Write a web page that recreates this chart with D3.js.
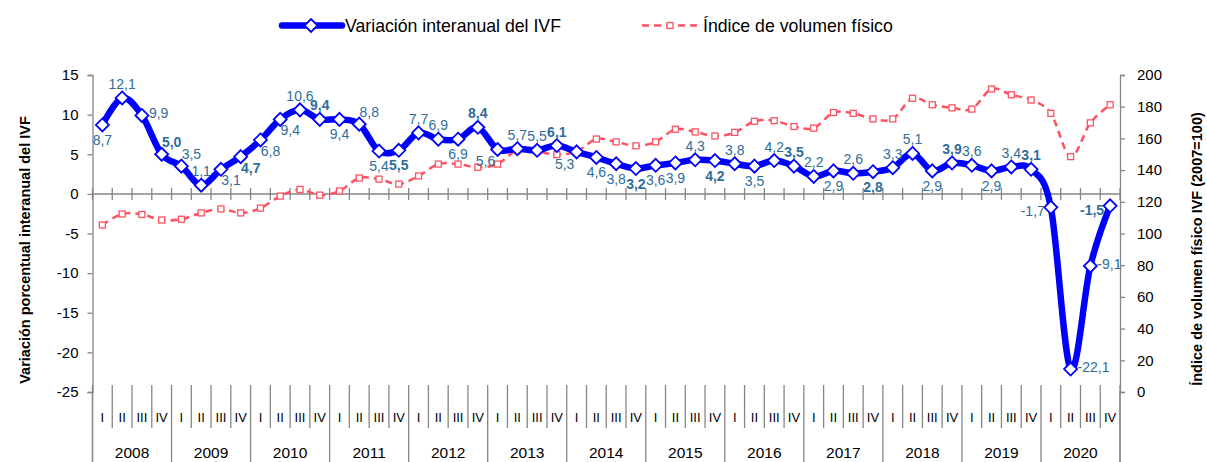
<!DOCTYPE html>
<html>
<head>
<meta charset="utf-8">
<script src="https://cdn.jsdelivr.net/npm/d3@7"></script>
<style>
  body { margin: 0; background: #fff; }
  text { font-family: "Liberation Sans", Arial, sans-serif; }
</style>
</head>
<body>
<svg id="chart" width="1207" height="462"></svg>
<script>
// quarterly data 2008-I .. 2020-IV
const years = ["2008", "2009", "2010", "2011", "2012", "2013", "2014",
  "2015", "2016", "2017", "2018", "2019", "2020"];
const quarters = ["I", "II", "III", "IV"];

// variacion interanual del IVF (%)
const variacion = [
  8.7, 12.1, 9.9, 5.0,
  3.5, 1.1, 3.1, 4.7,
  6.8, 9.4, 10.6, 9.4,
  9.4, 8.8, 5.4, 5.5,
  7.7, 6.9, 6.9, 8.4,
  5.6, 5.7, 5.5, 6.1,
  5.3, 4.6, 3.8, 3.2,
  3.6, 3.9, 4.3, 4.2,
  3.8, 3.5, 4.2, 3.5,
  2.2, 2.9, 2.6, 2.8,
  3.3, 5.1, 2.9, 3.9,
  3.6, 2.9, 3.4, 3.1,
  -1.7, -22.1, -9.1, -1.5
];

// indice de volumen fisico (2007=100)
const volumen = [
  105.4, 112.3, 112.0, 108.5,
  109.0, 113.0, 115.5, 113.0,
  116.0, 123.6, 127.8, 124.2,
  126.8, 135.0, 134.3, 131.2,
  136.3, 143.8, 143.8, 141.8,
  143.8, 152.7, 151.7, 149.8,
  151.7, 159.6, 157.8, 155.3,
  157.8, 165.8, 164.1, 161.5,
  163.8, 170.8, 171.2, 167.5,
  166.5, 176.3, 175.8, 172.3,
  172.3, 185.3, 181.2, 179.3,
  178.5, 191.2, 187.5, 184.2,
  175.8, 148.5, 169.8, 181.2
];

const leftTicks = [15, 10, 5, 0, -5, -10, -15, -20, -25];
const rightTicks = [0, 20, 40, 60, 80, 100, 120, 140, 160, 180, 200];

// where each data label sits relative to its point
const labelSide = [
  "b", "t", "r", "tr", "tr", "t", "br", "br", "br", "br", "t", "t", "b", "tr", "b", "b",
  "t", "t", "b", "t", "bl", "t", "t", "t", "bl", "b", "b", "b", "b", "b", "t", "b",
  "t", "b", "t", "t", "t", "b", "t", "b", "t", "t", "b", "t", "t", "b", "t", "t",
  "l", "r", "r", "l"
];

const sideOffset = {
  t: { dx: 0, dy: -14, anchor: "middle" },
  b: { dx: 0, dy: 15, anchor: "middle" },
  r: { dx: 7, dy: -2, anchor: "start" },
  l: { dx: -6, dy: 4, anchor: "end" },
  tr: { dx: 10, dy: -12, anchor: "middle" },
  br: { dx: 10, dy: 11, anchor: "middle" },
  bl: { dx: -12, dy: 12, anchor: "middle" }
};

const plotLeft = 92.5, plotRight = 1120, plotTop = 75, plotBottom = 392;
const axisColor = "#868686";
const blue = "#0000ff";
const red = "#ff5262";
const labelColor = "#2f6d99";

const svg = d3.select("#chart");

const x = d3.scaleBand().domain(d3.range(variacion.length)).range([plotLeft, plotRight]).padding(0);
const y = d3.scaleLinear().domain([-25, 15]).range([plotBottom, plotTop]);
const y2 = d3.scaleLinear().domain([0, 200]).range([plotBottom, plotTop]);
const cx = (i) => x(i) + x.bandwidth() / 2;

// left axis
const gLeft = svg.append("g")
  .attr("transform", "translate(" + plotLeft + ",0)")
  .call(d3.axisLeft(y).tickValues(leftTicks).tickSize(5).tickPadding(9).tickFormat((d) => String(d)));

// right axis
const gRight = svg.append("g")
  .attr("transform", "translate(" + plotRight + ",0)")
  .call(d3.axisRight(y2).tickValues(rightTicks).tickSize(5).tickPadding(12).tickFormat((d) => String(d)));

[gLeft, gRight].forEach((g) => {
  g.select(".domain").attr("stroke", axisColor).attr("stroke-width", 1.3);
  g.selectAll(".tick line").attr("stroke", axisColor).attr("stroke-width", 1.3);
  g.selectAll(".tick text").attr("fill", "#000").style("font-size", "15px")
    .style("font-family", '"Liberation Sans", Arial, sans-serif');
});

// horizontal axis line at zero with quarter ticks
const y0 = y(0);
svg.append("line")
  .attr("x1", plotLeft).attr("x2", plotRight).attr("y1", y0).attr("y2", y0)
  .attr("stroke", axisColor).attr("stroke-width", 1.5);

svg.append("g").selectAll("line")
  .data(d3.range(variacion.length + 1))
  .enter()
  .append("line")
  .attr("x1", (k) => plotLeft + k * x.bandwidth())
  .attr("x2", (k) => plotLeft + k * x.bandwidth())
  .attr("y1", y0 - 6).attr("y2", y0 + 6)
  .attr("stroke", axisColor).attr("stroke-width", 1.3);

// category label area: quarter and year separators
const sepTop = 385;
svg.append("g").selectAll("line")
  .data(d3.range(variacion.length + 1))
  .enter()
  .append("line")
  .attr("x1", (k) => plotLeft + k * x.bandwidth())
  .attr("x2", (k) => plotLeft + k * x.bandwidth())
  .attr("y1", sepTop)
  .attr("y2", (k) => (k % 4 === 0 ? 462 : 428))
  .attr("stroke", axisColor).attr("stroke-width", 1.3);

// axis lines continue down through the label area
svg.append("line")
  .attr("x1", plotLeft).attr("x2", plotLeft).attr("y1", plotBottom).attr("y2", 462)
  .attr("stroke", axisColor).attr("stroke-width", 1.3);
svg.append("line")
  .attr("x1", plotRight).attr("x2", plotRight).attr("y1", plotBottom).attr("y2", 462)
  .attr("stroke", axisColor).attr("stroke-width", 1.3);

svg.append("g").selectAll("text")
  .data(d3.range(variacion.length))
  .enter()
  .append("text")
  .attr("x", (i) => cx(i))
  .attr("y", 417)
  .attr("text-anchor", "middle")
  .attr("dominant-baseline", "central")
  .attr("fill", "#000")
  .style("font-size", "13px")
  .text((i) => quarters[i % 4]);

svg.append("g").selectAll("text")
  .data(years)
  .enter()
  .append("text")
  .attr("x", (d, j) => plotLeft + (j * 4 + 2) * x.bandwidth())
  .attr("y", 452)
  .attr("text-anchor", "middle")
  .attr("dominant-baseline", "central")
  .style("font-size", "15.5px")
  .text((d) => d);

// axis titles
svg.append("text")
  .attr("transform", "translate(25,250) rotate(-90)")
  .attr("text-anchor", "middle")
  .attr("dominant-baseline", "central")
  .style("font-size", "14.5px")
  .style("font-weight", "bold")
  .text("Variación porcentual interanual del IVF");

svg.append("text")
  .attr("transform", "translate(1197,249) rotate(-90)")
  .attr("text-anchor", "middle")
  .attr("dominant-baseline", "central")
  .style("font-size", "14.5px")
  .style("font-weight", "bold")
  .text("Índice de volumen físico IVF (2007=100)");

// red series: indice de volumen fisico
const lineRed = d3.line()
  .x((d, i) => cx(i))
  .y((d) => y2(d))
  .curve(d3.curveCatmullRom.alpha(0));

svg.append("path")
  .datum(volumen)
  .attr("fill", "none")
  .attr("stroke", red)
  .attr("stroke-width", 2.5)
  .attr("stroke-dasharray", "7,5")
  .attr("d", lineRed);

svg.append("g").selectAll("rect")
  .data(volumen)
  .enter()
  .append("rect")
  .attr("x", (d, i) => cx(i) - 3)
  .attr("y", (d) => y2(d) - 3)
  .attr("width", 6)
  .attr("height", 6)
  .attr("fill", "#fff")
  .attr("stroke", red)
  .attr("stroke-width", 1.3);

// blue series: variacion interanual
const lineBlue = d3.line()
  .x((d, i) => cx(i))
  .y((d) => y(d))
  .curve(d3.curveCatmullRom.alpha(0));

svg.append("path")
  .datum(variacion)
  .attr("fill", "none")
  .attr("stroke", blue)
  .attr("stroke-width", 6.5)
  .attr("stroke-linejoin", "round")
  .attr("d", lineBlue);

const diamond = (px, py, r) =>
  "M" + px + "," + (py - r) + "L" + (px + r) + "," + py + "L" + px + "," + (py + r) + "L" + (px - r) + "," + py + "Z";

svg.append("g").selectAll("path")
  .data(variacion)
  .enter()
  .append("path")
  .attr("d", (d, i) => diamond(cx(i), y(d), 6.5))
  .attr("fill", "#fff")
  .attr("stroke", blue)
  .attr("stroke-width", 1.8);

// data labels, Q4 in bold
svg.append("g").selectAll("text")
  .data(variacion)
  .enter()
  .append("text")
  .attr("x", (d, i) => cx(i) + sideOffset[labelSide[i]].dx)
  .attr("y", (d, i) => y(d) + sideOffset[labelSide[i]].dy)
  .attr("text-anchor", (d, i) => sideOffset[labelSide[i]].anchor)
  .attr("dominant-baseline", "central")
  .attr("fill", labelColor)
  .style("font-size", "14px")
  .style("font-weight", (d, i) => (i % 4 === 3 ? "bold" : "normal"))
  .text((d) => d.toFixed(1).replace(".", ","));

// legend
const legend = svg.append("g");
legend.append("line")
  .attr("x1", 282).attr("x2", 342).attr("y1", 25.5).attr("y2", 25.5)
  .attr("stroke", blue).attr("stroke-width", 6.5).attr("stroke-linecap", "round");
legend.append("path")
  .attr("d", diamond(311, 25.5, 6.5))
  .attr("fill", "#fff").attr("stroke", blue).attr("stroke-width", 1.8);
legend.append("text")
  .attr("x", 345).attr("y", 25.5)
  .attr("dominant-baseline", "central")
  .style("font-size", "17.7px")
  .text("Variación interanual del IVF");

legend.append("line")
  .attr("x1", 642).attr("x2", 697).attr("y1", 25.5).attr("y2", 25.5)
  .attr("stroke", red).attr("stroke-width", 2.5).attr("stroke-dasharray", "7,5");
legend.append("rect")
  .attr("x", 667).attr("y", 22.5).attr("width", 6).attr("height", 6)
  .attr("fill", "#fff").attr("stroke", red).attr("stroke-width", 1.3);
legend.append("text")
  .attr("x", 703).attr("y", 25.5)
  .attr("dominant-baseline", "central")
  .style("font-size", "17.7px")
  .text("Índice de volumen físico");
</script>
</body>
</html>
